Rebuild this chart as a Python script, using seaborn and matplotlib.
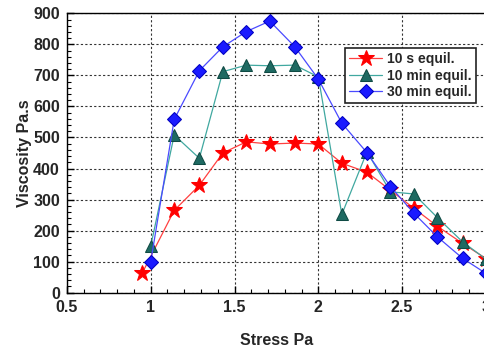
import numpy as np
import matplotlib
matplotlib.use("Agg")
import matplotlib.pyplot as plt
from matplotlib.ticker import MultipleLocator
import seaborn as sns

# stress values (Pa)
stress = [1.00, 1.14, 1.29, 1.43, 1.57, 1.71, 1.86, 2.00, 2.14, 2.29, 2.43, 2.57, 2.71, 2.86, 3.00]
stress_10s = [0.95, 1.14, 1.29, 1.43, 1.57, 1.71, 1.86, 2.00, 2.14, 2.29, 2.43, 2.57, 2.71, 2.86, 3.00]

visc_10s = [64, 265, 346, 450, 486, 479, 482, 479, 417, 388, 330, 272, 214, 159, 110]
visc_10min = [150, 508, 433, 712, 733, 731, 733, 695, 252, 454, 325, 318, 242, 164, 108]
visc_30min = [100, 558, 715, 792, 841, 875, 792, 688, 546, 451, 342, 256, 180, 111, 62]

sns.set_theme(style="white")
plt.rcParams['font.family'] = ['Liberation Sans', 'DejaVu Sans']
plt.rcParams['font.weight'] = 'bold'

fig = plt.figure(figsize=(4.85, 3.5), dpi=100)
ax = fig.add_axes([0.138, 1 - 292.7 / 350, 0.864, 279.4 / 350])

sns.lineplot(x=stress_10s, y=visc_10s, ax=ax, color='#ff4040', lw=0.9,
             marker='*', markersize=12, markerfacecolor='#ff0000', markeredgecolor='#ff0000',
             label='10 s equil.', sort=False)
sns.lineplot(x=stress, y=visc_10min, ax=ax, color='#40a8a0', lw=0.9,
             marker='^', markersize=9, markerfacecolor='#1e6a62', markeredgecolor='#0f4a44',
             label='10 min equil.', sort=False)
sns.lineplot(x=stress, y=visc_30min, ax=ax, color='#4a4aff', lw=0.9,
             marker='D', markersize=7, markerfacecolor='#1a1aff', markeredgecolor='#0000c0',
             label='30 min equil.', sort=False)

ax.set_xlim(0.5, 3.0)
ax.set_ylim(0, 900)
ax.xaxis.set_minor_locator(MultipleLocator(0.1))
ax.yaxis.set_major_locator(MultipleLocator(100))
ax.yaxis.set_minor_locator(MultipleLocator(20))
ax.set_xticks([0.5, 1, 1.5, 2, 2.5, 3])
ax.set_xticklabels(['0.5', '1', '1.5', '2', '2.5', '3'])
ax.tick_params(which='both', direction='in', color='black', top=False, right=False, bottom=True, left=True)
ax.tick_params(which='major', length=5, width=1, labelsize=11.5, pad=5)
ax.tick_params(which='minor', length=3, width=0.8)
for lab in ax.get_xticklabels() + ax.get_yticklabels():
    lab.set_fontweight('bold')

ax.grid(True, which='major', color='#333333', linestyle=(0, (2, 2)), linewidth=0.8)
for s in ax.spines.values():
    s.set_color('black')
    s.set_linewidth(1.0)

ax.set_xlabel('Stress Pa', fontsize=11.5, fontweight='bold', labelpad=13)
ax.set_ylabel('Viscosity Pa.s', fontsize=11.5, fontweight='bold', labelpad=1)

leg = ax.legend(loc='upper right', bbox_to_anchor=(0.976, 0.876), fontsize=10,
                frameon=True, fancybox=False, framealpha=1, borderpad=0.3,
                labelspacing=0.18, handlelength=2.4, handletextpad=0.35, borderaxespad=0)
leg.get_frame().set_edgecolor('#222222')
leg.get_frame().set_linewidth(1.2)
for t in leg.get_texts():
    t.set_fontweight('bold')

fig.savefig('out.png', dpi=100)
